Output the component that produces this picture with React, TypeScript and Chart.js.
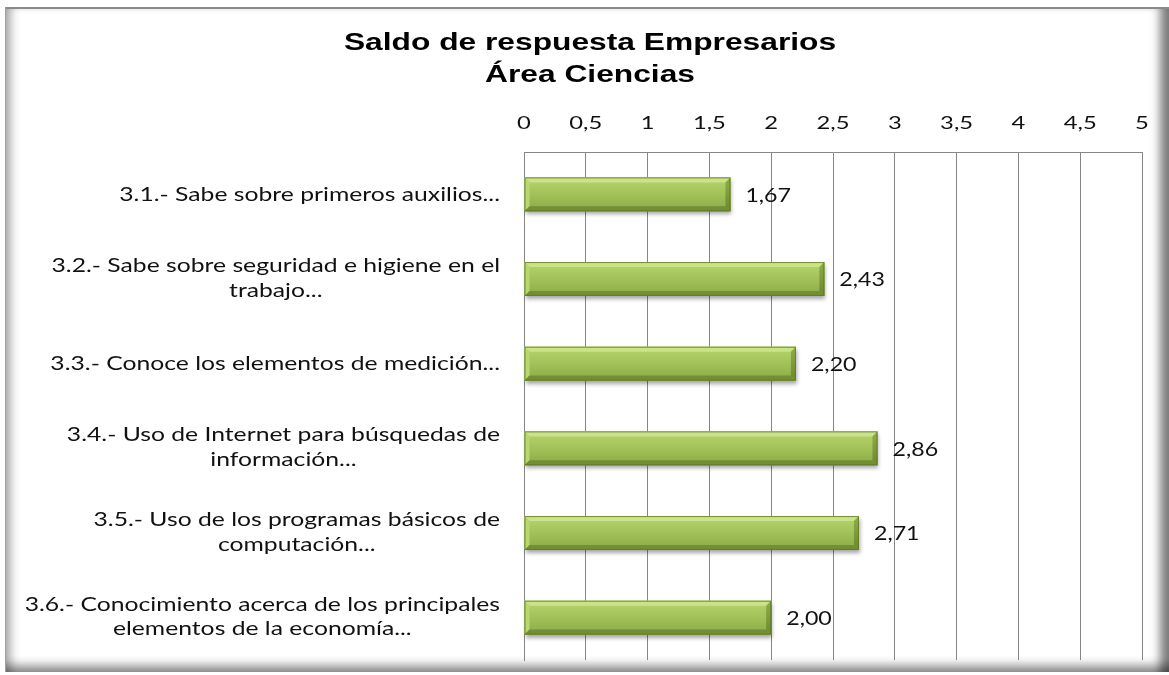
import React, { useEffect, useRef } from "react";
import { Chart, registerables } from "chart.js";

Chart.register(...registerables);

// ---------- data ----------
const TITLE_LINES = ["Saldo de respuesta Empresarios", "Área Ciencias"];
const CATEGORIES: string[][] = [
  ["3.1.- Sabe sobre primeros auxilios..."],
  ["3.2.- Sabe sobre seguridad e higiene en el", "trabajo..."],
  ["3.3.- Conoce los elementos de medición..."],
  ["3.4.- Uso de Internet para búsquedas de", "información..."],
  ["3.5.- Uso de los programas básicos de", "computación..."],
  ["3.6.- Conocimiento acerca de los principales", "elementos de la economía..."],
];
const VALUES = [1.67, 2.43, 2.2, 2.86, 2.71, 2.0];
const X_MIN = 0;
const X_MAX = 5;
const X_STEP = 0.5;

// ---------- styles ----------
const W = 1169;
const H = 675;
const LABEL_FONT_SIZE = 19;
const LABEL_FONT = `${LABEL_FONT_SIZE}px Lato`;
const LABEL_SX = 1.3;
const TICK_FONT_SIZE = 18;
const TICK_FONT = `${TICK_FONT_SIZE}px Lato`;
const TICK_SX = 1.32;
const DATA_FONT_SIZE = 19;
const DATA_FONT = `${DATA_FONT_SIZE}px Lato`;
const DATA_SX = 1.22;
const TITLE_FONT = `bold 23px "Liberation Sans", Arial, sans-serif`;
const TITLE_SX = 1.38;
const CAP = 0.7165;
const GRID = "#868686";

const fmt = (v: number, d: number) => v.toFixed(d).replace(".", ",");
const fmtTick = (v: number) => String(Math.round(v * 10) / 10).replace(".", ",");

function drawText(
  ctx: CanvasRenderingContext2D,
  text: string,
  x: number,
  y: number,
  font: string,
  sx: number,
  align: "left" | "center" | "right",
  color = "#000"
) {
  ctx.save();
  ctx.font = font;
  ctx.fillStyle = color;
  ctx.textBaseline = "alphabetic";
  ctx.textAlign = "left";
  const w = ctx.measureText(text).width * sx;
  let left = x;
  if (align === "center") left = x - w / 2;
  else if (align === "right") left = x - w;
  ctx.translate(left, y);
  ctx.scale(sx, 1);
  ctx.fillText(text, 0, 0);
  ctx.restore();
  return w;
}

function measure(ctx: CanvasRenderingContext2D, text: string, font: string) {
  ctx.save();
  ctx.font = font;
  const w = ctx.measureText(text).width;
  ctx.restore();
  return w;
}

const bevelBars = {
  id: "bevelBars",
  afterDatasetsDraw(chart: any) {
    const ctx: CanvasRenderingContext2D = chart.ctx;
    const meta = chart.getDatasetMeta(0);
    meta.data.forEach((el: any) => {
      const p = el.getProps(["x", "y", "base", "height"], true);
      const x0 = Math.min(p.base, p.x);
      const x1 = Math.max(p.base, p.x);
      const y0 = p.y - p.height / 2;
      const y1 = p.y + p.height / 2;
      const b = 5;
      ctx.save();
      const g = ctx.createLinearGradient(0, y0, 0, y1);
      g.addColorStop(0, "#b8d56f");
      g.addColorStop(0.5, "#a2c158");
      g.addColorStop(1, "#8aaa47");
      ctx.shadowColor = "rgba(0,0,0,0.35)";
      ctx.shadowBlur = 4;
      ctx.shadowOffsetX = 1;
      ctx.shadowOffsetY = 3;
      ctx.fillStyle = g;
      ctx.fillRect(x0, y0, x1 - x0, y1 - y0);
      ctx.shadowColor = "transparent";
      // top bevel
      ctx.fillStyle = "#c9e386";
      ctx.beginPath();
      ctx.moveTo(x0, y0);
      ctx.lineTo(x1, y0);
      ctx.lineTo(x1 - b, y0 + b);
      ctx.lineTo(x0 + b, y0 + b);
      ctx.closePath();
      ctx.fill();
      // left bevel
      ctx.fillStyle = "#b9d672";
      ctx.beginPath();
      ctx.moveTo(x0, y0);
      ctx.lineTo(x0 + b, y0 + b);
      ctx.lineTo(x0 + b, y1 - b);
      ctx.lineTo(x0, y1);
      ctx.closePath();
      ctx.fill();
      // bottom bevel
      ctx.fillStyle = "#728f34";
      ctx.beginPath();
      ctx.moveTo(x0, y1);
      ctx.lineTo(x1, y1);
      ctx.lineTo(x1 - b, y1 - b);
      ctx.lineTo(x0 + b, y1 - b);
      ctx.closePath();
      ctx.fill();
      // right bevel
      const gr = ctx.createLinearGradient(0, y0, 0, y1);
      gr.addColorStop(0, "#8fae48");
      gr.addColorStop(1, "#6b882d");
      ctx.fillStyle = gr;
      ctx.beginPath();
      ctx.moveTo(x1, y0);
      ctx.lineTo(x1, y1);
      ctx.lineTo(x1 - b, y1 - b);
      ctx.lineTo(x1 - b, y0 + b);
      ctx.closePath();
      ctx.fill();
      ctx.strokeStyle = "rgba(95,120,40,0.8)";
      ctx.lineWidth = 1;
      ctx.strokeRect(x0 + 0.5, y0 + 0.5, x1 - x0 - 1, y1 - y0 - 1);
      ctx.restore();
    });
  },
};

const textLayer = {
  id: "textLayer",
  afterDraw(chart: any) {
    const ctx: CanvasRenderingContext2D = chart.ctx;
    const xs = chart.scales.x;
    const ys = chart.scales.y;
    const area = chart.chartArea;

    // title
    TITLE_LINES.forEach((t, i) => {
      drawText(ctx, t, 590, 49.5 + i * 32, TITLE_FONT, TITLE_SX, "center");
    });

    // x tick labels (top)
    xs.ticks.forEach((t: any) => {
      const px = xs.getPixelForValue(t.value);
      drawText(ctx, fmtTick(t.value), px, 129, TICK_FONT, TICK_SX, "center", "#111");
    });

    // category labels
    const lh = 24.5;
    CATEGORIES.forEach((lines, i) => {
      const cy = ys.getPixelForValue(i);
      const right = area.left - 24;
      const widths = lines.map((l) => measure(ctx, l, LABEL_FONT) * LABEL_SX);
      const bw = Math.max(...widths);
      const cx = right - bw / 2;
      lines.forEach((l, j) => {
        const mid = cy + (j - (lines.length - 1) / 2) * lh - (lines.length > 1 ? 1.5 : 0);
        drawText(ctx, l, cx, mid + (CAP * LABEL_FONT_SIZE) / 2, LABEL_FONT, LABEL_SX, "center", "#111");
      });
    });

    // value labels
    const meta = chart.getDatasetMeta(0);
    meta.data.forEach((el: any, i: number) => {
      const p = el.getProps(["x", "y"], true);
      drawText(ctx, fmt(VALUES[i], 2), p.x + 15, p.y + (CAP * DATA_FONT_SIZE) / 2 + 0.5, DATA_FONT, DATA_SX, "left", "#111");
    });
  },
};

export default function App() {
  const ref = useRef<HTMLCanvasElement | null>(null);
  useEffect(() => {
    if (!ref.current) return;
    const chart = new Chart(ref.current, {
      type: "bar",
      data: {
        labels: CATEGORIES,
        datasets: [
          {
            data: VALUES,
            backgroundColor: "#9bbb59",
            borderWidth: 0,
            barPercentage: 0.4,
            categoryPercentage: 1,
          },
        ],
      },
      options: {
        indexAxis: "y",
        responsive: false,
        animation: false,
        layout: { padding: { top: 152, right: 27, bottom: 15, left: 0 } },
        plugins: {
          legend: { display: false },
          title: { display: false },
          tooltip: { enabled: false },
        },
        scales: {
          x: {
            type: "linear",
            position: "top",
            min: X_MIN,
            max: X_MAX,
            ticks: { stepSize: X_STEP, display: false },
            grid: { color: GRID, lineWidth: 1, drawTicks: false },
            border: { display: true, color: GRID, width: 1 },
            afterFit: (s: any) => {
              s.height = 0;
            },
          },
          y: {
            type: "category",
            ticks: { display: false },
            grid: { display: false, drawTicks: false },
            border: { display: true, color: GRID, width: 1 },
            afterFit: (s: any) => {
              s.width = 524;
            },
          },
        },
      },
      plugins: [bevelBars, textLayer],
    });
    return () => chart.destroy();
  }, []);

  return (
    <div style={{ position: "absolute", left: 0, top: 0, width: W, height: H, background: "#fff", overflow: "hidden" }}>
      <div
        style={{
          position: "absolute",
          left: 5,
          top: 7,
          width: 1164,
          height: 665,
          boxSizing: "border-box",
          background: "#fff",
          borderTop: "2px solid #8a8a8a",
          borderLeft: "1px solid #a0a0a0",
          boxShadow:
            "inset 11px 0 10px -6px rgba(0,0,0,0.32), inset -15px 0 10px -6px rgba(0,0,0,0.5), inset 0 -13px 10px -6px rgba(0,0,0,0.42)",
        }}
      />
      <canvas ref={ref} width={W} height={H} style={{ position: "absolute", left: 0, top: 0 }} />
    </div>
  );
}
